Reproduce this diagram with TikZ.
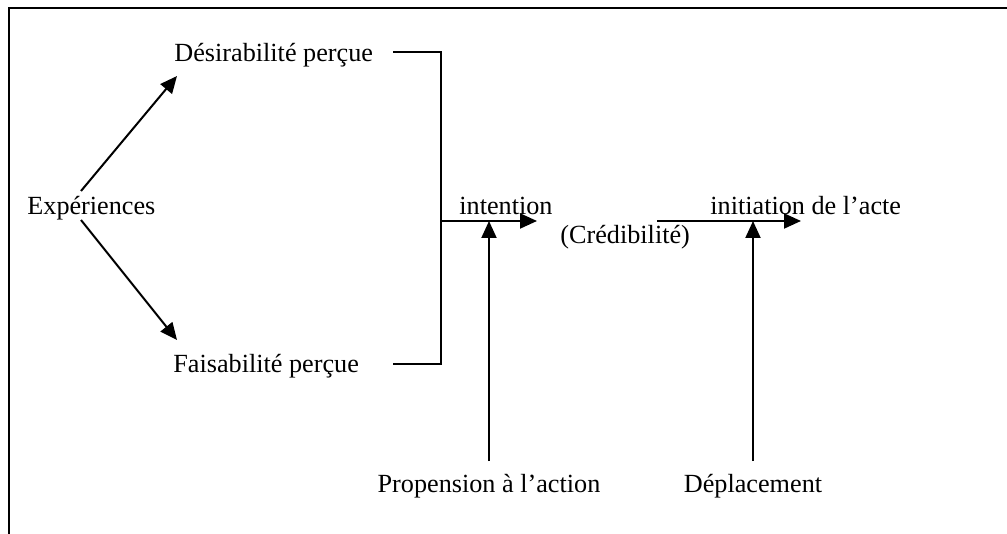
\documentclass[tikz,border=0pt]{standalone}
\usepackage{fontspec}
\setmainfont{Liberation Serif}
\usetikzlibrary{arrows.meta}

\begin{document}
\begin{tikzpicture}[x=0.5pt,y=-0.5pt,
    lbl/.style={inner sep=0pt,font=\fontsize{13.1}{15}\selectfont},
    arr/.style={-{Triangle[length=8.5pt,width=7.5pt]},line width=1pt},
    seg/.style={line width=1pt}]
  \useasboundingbox (0,0) rectangle (1007,534);
  % frame
  \draw[line width=1.4pt] (1007,8) -- (9,8) -- (9,534);
  % labels
  \node[lbl,anchor=base west] (exp) at (27,215) {Expériences};
  \node[lbl,anchor=base west] (des) at (174,62) {Désirabilité perçue};
  \node[lbl,anchor=base west] (fai) at (173,372) {Faisabilité perçue};
  \node[lbl,anchor=base west] (int) at (459,215) {intention};
  \node[lbl,anchor=base west] (cred) at (560,244) {(Crédibilité)};
  \node[lbl,anchor=base west] (ini) at (710,215) {initiation de l’acte};
  \node[lbl,anchor=base] (prop) at (489,492) {Propension à l’action};
  \node[lbl,anchor=base] (dep) at (753,492) {Déplacement};
  % points
  \coordinate (e1) at (81,191);
  \coordinate (e2) at (81,220);
  \coordinate (d1) at (177,76);
  \coordinate (f1) at (177,340);
  \coordinate (b1) at (393,52);
  \coordinate (b2) at (441,52);
  \coordinate (b3) at (441,364);
  \coordinate (b4) at (393,364);
  \coordinate (j1) at (441,221);
  \coordinate (t1) at (537,221);
  \coordinate (p1) at (489,221);
  \coordinate (p0) at (489,461);
  \coordinate (j2) at (657,221);
  \coordinate (t2) at (801,221);
  \coordinate (q1) at (753,221);
  \coordinate (q0) at (753,461);
  % connectors
  \draw[arr] (e1) -- (d1);
  \draw[arr] (e2) -- (f1);
  \draw[seg] (b1) -- (b2) -- (b3) -- (b4);
  \draw[arr] (j1) -- (t1);
  \draw[arr] (p0) -- (p1);
  \draw[arr] (j2) -- (t2);
  \draw[arr] (q0) -- (q1);
\end{tikzpicture}
\end{document}
